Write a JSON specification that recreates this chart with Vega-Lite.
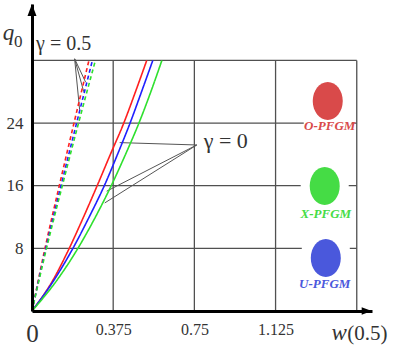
{
  "$schema": "https://vega.github.io/schema/vega-lite/v6.json",
  "width": 340,
  "height": 307,
  "autosize": "none",
  "padding": {"left": 32, "top": 4, "right": 21, "bottom": 42},
  "background": "white",
  "config": {"view": {"stroke": null}},
  "datasets": {
    "curves": [
      {"series": "O-PFGM", "gamma": "0", "q": 0, "w": 0},
      {"series": "O-PFGM", "gamma": "0", "q": 4, "w": 0.098},
      {"series": "O-PFGM", "gamma": "0", "q": 8, "w": 0.172},
      {"series": "O-PFGM", "gamma": "0", "q": 12, "w": 0.238},
      {"series": "O-PFGM", "gamma": "0", "q": 16, "w": 0.301},
      {"series": "O-PFGM", "gamma": "0", "q": 20, "w": 0.362},
      {"series": "O-PFGM", "gamma": "0", "q": 24, "w": 0.424},
      {"series": "O-PFGM", "gamma": "0", "q": 28, "w": 0.478},
      {"series": "O-PFGM", "gamma": "0", "q": 32, "w": 0.530},
      {"series": "U-PFGM", "gamma": "0", "q": 0, "w": 0},
      {"series": "U-PFGM", "gamma": "0", "q": 4, "w": 0.103},
      {"series": "U-PFGM", "gamma": "0", "q": 8, "w": 0.189},
      {"series": "U-PFGM", "gamma": "0", "q": 12, "w": 0.264},
      {"series": "U-PFGM", "gamma": "0", "q": 16, "w": 0.334},
      {"series": "U-PFGM", "gamma": "0", "q": 20, "w": 0.395},
      {"series": "U-PFGM", "gamma": "0", "q": 24, "w": 0.453},
      {"series": "U-PFGM", "gamma": "0", "q": 28, "w": 0.506},
      {"series": "U-PFGM", "gamma": "0", "q": 32, "w": 0.558},
      {"series": "X-PFGM", "gamma": "0", "q": 0, "w": 0},
      {"series": "X-PFGM", "gamma": "0", "q": 4, "w": 0.117},
      {"series": "X-PFGM", "gamma": "0", "q": 8, "w": 0.212},
      {"series": "X-PFGM", "gamma": "0", "q": 12, "w": 0.293},
      {"series": "X-PFGM", "gamma": "0", "q": 16, "w": 0.366},
      {"series": "X-PFGM", "gamma": "0", "q": 20, "w": 0.432},
      {"series": "X-PFGM", "gamma": "0", "q": 24, "w": 0.494},
      {"series": "X-PFGM", "gamma": "0", "q": 28, "w": 0.549},
      {"series": "X-PFGM", "gamma": "0", "q": 32, "w": 0.600},
      {"series": "O-PFGM", "gamma": "0.5", "q": 0, "w": 0},
      {"series": "O-PFGM", "gamma": "0.5", "q": 8, "w": 0.060},
      {"series": "O-PFGM", "gamma": "0.5", "q": 16, "w": 0.126},
      {"series": "O-PFGM", "gamma": "0.5", "q": 24, "w": 0.194},
      {"series": "O-PFGM", "gamma": "0.5", "q": 32, "w": 0.263},
      {"series": "U-PFGM", "gamma": "0.5", "q": 0, "w": 0},
      {"series": "U-PFGM", "gamma": "0.5", "q": 8, "w": 0.064},
      {"series": "U-PFGM", "gamma": "0.5", "q": 16, "w": 0.134},
      {"series": "U-PFGM", "gamma": "0.5", "q": 24, "w": 0.206},
      {"series": "U-PFGM", "gamma": "0.5", "q": 32, "w": 0.279},
      {"series": "X-PFGM", "gamma": "0.5", "q": 0, "w": 0},
      {"series": "X-PFGM", "gamma": "0.5", "q": 8, "w": 0.067},
      {"series": "X-PFGM", "gamma": "0.5", "q": 16, "w": 0.140},
      {"series": "X-PFGM", "gamma": "0.5", "q": 24, "w": 0.215},
      {"series": "X-PFGM", "gamma": "0.5", "q": 32, "w": 0.293}
    ],
    "grid": [
      {"w": 0.375, "q": 0, "w2": 0.375, "q2": 32},
      {"w": 0.75, "q": 0, "w2": 0.75, "q2": 32},
      {"w": 1.125, "q": 0, "w2": 1.125, "q2": 32},
      {"w": 1.5, "q": 0, "w2": 1.5, "q2": 32},
      {"w": 0, "q": 8, "w2": 1.5, "q2": 8},
      {"w": 0, "q": 16, "w2": 1.5, "q2": 16},
      {"w": 0, "q": 24, "w2": 1.5, "q2": 24},
      {"w": 0, "q": 32, "w2": 1.5, "q2": 32}
    ],
    "leaders": [
      {"w": 0.197, "q": 32.2, "w2": 0.248, "q2": 29.2},
      {"w": 0.197, "q": 32.2, "w2": 0.239, "q2": 28.0},
      {"w": 0.197, "q": 32.2, "w2": 0.220, "q2": 25.7},
      {"w": 0.761, "q": 21.2, "w2": 0.405, "q2": 21.5},
      {"w": 0.761, "q": 21.2, "w2": 0.345, "q2": 15.3},
      {"w": 0.761, "q": 21.2, "w2": 0.336, "q2": 13.8}
    ],
    "legend": [
      {"series": "O-PFGM", "w": 1.366, "q": 26.8},
      {"series": "X-PFGM", "w": 1.352, "q": 15.96},
      {"series": "U-PFGM", "w": 1.357, "q": 6.77}
    ],
    "legendLabels": [
      {"series": "O-PFGM", "w": 1.375, "q": 23.6},
      {"series": "X-PFGM", "w": 1.357, "q": 12.4},
      {"series": "U-PFGM", "w": 1.352, "q": 3.45}
    ]
  },
  "encoding": {
    "x": {
      "field": "w",
      "type": "quantitative",
      "scale": {"domain": [0, 1.5704], "nice": false, "zero": false},
      "axis": {
        "values": [0, 0.375, 0.75, 1.125],
        "title": null,
        "grid": false,
        "ticks": false,
        "tickSize": 0,
        "domainColor": "black",
        "domainWidth": 3,
        "zindex": 1,
        "labelFont": "Liberation Serif",
        "labelColor": "#333333",
        "labelFontSize": {"condition": {"test": "datum.value === 0", "value": 25}, "value": 16},
        "labelPadding": 10,
        "labelFlush": false,
        "labelOverlap": false,
        "labelExpr": "'' + datum.value"
      }
    },
    "y": {
      "field": "q",
      "type": "quantitative",
      "scale": {"domain": [0, 39.2], "nice": false, "zero": false},
      "axis": {
        "values": [8, 16, 24],
        "title": null,
        "grid": false,
        "ticks": false,
        "tickSize": 0,
        "domainColor": "black",
        "domainWidth": 3,
        "zindex": 1,
        "labelFont": "Liberation Serif",
        "labelColor": "#333333",
        "labelFontSize": 17,
        "labelPadding": 9,
        "labelOverlap": false,
        "labelExpr": "'' + datum.value"
      }
    }
  },
  "layer": [
    {
      "data": {"name": "grid"},
      "mark": {"type": "rule", "color": "#505050", "strokeWidth": 1.3},
      "encoding": {"x2": {"field": "w2"}, "y2": {"field": "q2"}}
    },
    {
      "data": {"name": "legend"},
      "mark": {"type": "point", "shape": "M-1,-1.4H1V1.4H-1Z", "filled": true, "fill": "white", "opacity": 1, "size": 2304, "strokeWidth": 0}
    },
    {
      "data": {"name": "leaders"},
      "mark": {"type": "rule", "color": "#555555", "strokeWidth": 1},
      "encoding": {"x2": {"field": "w2"}, "y2": {"field": "q2"}}
    },
    {
      "data": {"name": "curves"},
      "mark": {"type": "line", "strokeWidth": 1.6, "interpolate": "monotone"},
      "encoding": {
        "order": {"field": "q", "type": "quantitative"},
        "stroke": {
          "field": "series",
          "type": "nominal",
          "scale": {"domain": ["O-PFGM", "X-PFGM", "U-PFGM"], "range": ["#ff1f1f", "#2ee02e", "#1f1fff"]},
          "legend": null
        },
        "strokeDash": {
          "field": "gamma",
          "type": "nominal",
          "scale": {"domain": ["0", "0.5"], "range": [[1, 0], [4, 3]]},
          "legend": null
        }
      }
    },
    {
      "data": {"name": "legend"},
      "mark": {"type": "point", "shape": "M-0.79,0A0.79,1,0,1,0,0.79,0A0.79,1,0,1,0,-0.79,0Z", "filled": true, "opacity": 1, "size": 1444, "strokeWidth": 0},
      "encoding": {
        "fill": {
          "field": "series",
          "type": "nominal",
          "scale": {"domain": ["O-PFGM", "X-PFGM", "U-PFGM"], "range": ["#d94a4a", "#45dc45", "#4a58dc"]},
          "legend": null
        }
      }
    },
    {
      "data": {"name": "legendLabels"},
      "mark": {"type": "text", "font": "Liberation Serif", "fontSize": 13, "fontStyle": "italic", "fontWeight": "bold", "align": "center", "baseline": "middle"},
      "encoding": {
        "text": {"field": "series"},
        "fill": {"field": "series", "type": "nominal", "legend": null}
      }
    },
    {
      "data": {"values": [{"label": "γ = 0.5", "w": 0.146, "q": 33.3}]},
      "mark": {"type": "text", "font": "Liberation Serif", "fontSize": 20, "color": "#333333", "align": "center", "baseline": "alphabetic"},
      "encoding": {"text": {"field": "label"}}
    },
    {
      "data": {"values": [{"label": "γ = 0", "w": 0.895, "q": 20.8}]},
      "mark": {"type": "text", "font": "Liberation Serif", "fontSize": 22, "color": "#333333", "align": "center", "baseline": "alphabetic"},
      "encoding": {"text": {"field": "label"}}
    },
    {
      "data": {"values": [{"label": "q", "w": -0.108, "q": 34.6}]},
      "mark": {"type": "text", "font": "Liberation Serif", "fontSize": 23, "fontStyle": "italic", "color": "#333333", "align": "center", "baseline": "alphabetic"},
      "encoding": {"text": {"field": "label"}}
    },
    {
      "data": {"values": [{"label": "w", "w": 1.454, "q": -3.7}]},
      "mark": {"type": "text", "font": "Liberation Serif", "fontSize": 23, "fontStyle": "italic", "color": "#333333", "align": "right", "baseline": "alphabetic"},
      "encoding": {"text": {"field": "label"}}
    },
    {
      "data": {"values": [{"label": "0", "w": -0.064, "q": 33.7}]},
      "mark": {"type": "text", "font": "Liberation Serif", "fontSize": 17, "color": "#333333", "align": "center", "baseline": "alphabetic"},
      "encoding": {"text": {"field": "label"}}
    },
    {
      "data": {"values": [{"label": "(0.5)", "w": 1.456, "q": -3.7}]},
      "mark": {"type": "text", "font": "Liberation Serif", "fontSize": 21, "color": "#333333", "align": "left", "baseline": "alphabetic"},
      "encoding": {"text": {"field": "label"}}
    },
    {
      "data": {"values": [{"w": 1.546, "q": 0}]},
      "mark": {"type": "point", "shape": "M-1,-0.75L1,0L-1,0.75Z", "filled": true, "color": "black", "opacity": 1, "size": 100, "strokeWidth": 0}
    },
    {
      "data": {"values": [{"w": 0, "q": 38.44}]},
      "mark": {"type": "point", "shape": "M-0.75,1L0,-1L0.75,1Z", "filled": true, "color": "black", "opacity": 1, "size": 144, "strokeWidth": 0}
    }
  ]
}
